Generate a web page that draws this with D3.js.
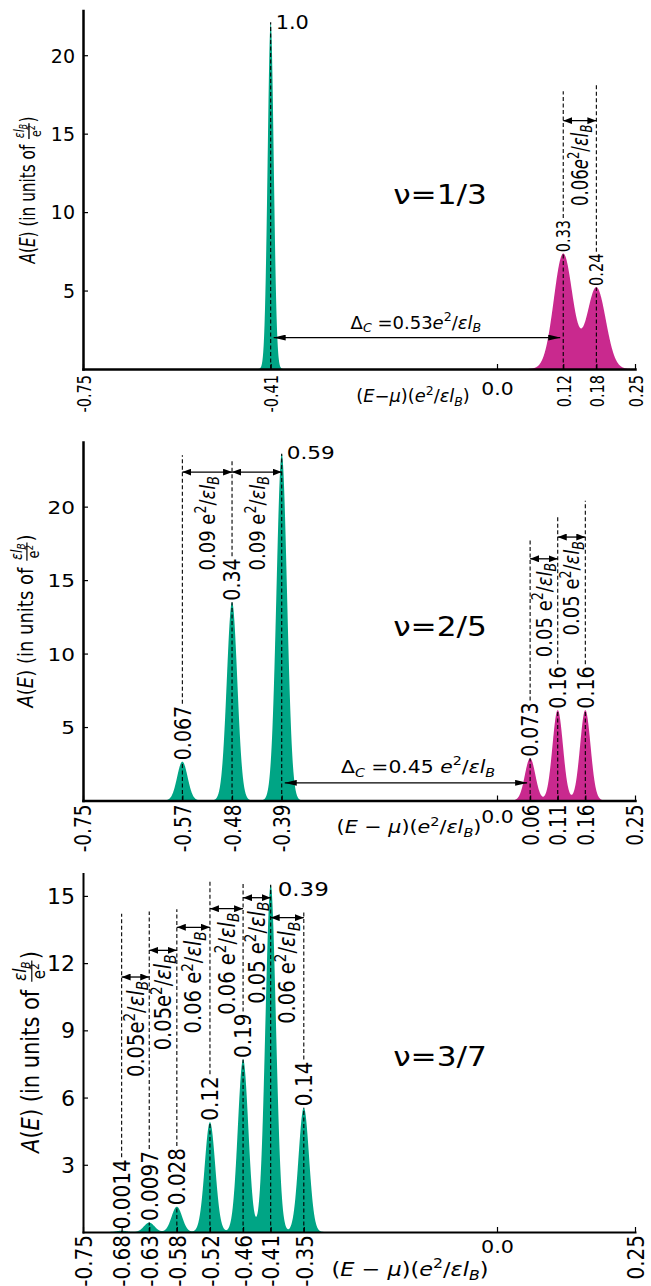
<!DOCTYPE html>
<html>
<head>
<meta charset="utf-8">
<title>Spectral function A(E) at ν = 1/3, 2/5, 3/7</title>
<script src="https://cdn.jsdelivr.net/npm/d3@7/dist/d3.min.js"></script>
<style>
  html, body { margin: 0; padding: 0; background: #fff; }
  svg { display: block; }
  text { font-family: "DejaVu Sans", "Noto Sans", sans-serif; fill: #000; white-space: pre; }
</style>
</head>
<body>
<svg id="chart" width="651" height="1286"></svg>
<script>
// ---------- ν = 1/3 ----------
const nu13Centers  = [-0.41, 0.12, 0.18];
const nu13Heights  = [22.1, 7.35, 5.2];
const nu13Widths   = [0.0055, 0.017, 0.017];
const nu13Sides    = ["hole", "particle", "particle"];
const nu13Weights  = ["1.0", "0.33", "0.24"];
const nu13Spacings = ["0.06"];
const nu13Gap      = "0.53";
const nu13XTicks      = [-0.75, -0.41, 0.0, 0.12, 0.18, 0.25];
const nu13XTickLabels = ["-0.75", "-0.41", "0.0", "0.12", "0.18", "0.25"];
const nu13YTicks      = [5, 10, 15, 20];

// ---------- ν = 2/5 ----------
const nu25Centers  = [-0.57, -0.48, -0.39, 0.06, 0.11, 0.16];
const nu25Heights  = [2.64, 13.5, 23.6, 2.87, 6.15, 6.15];
const nu25Widths   = [0.0095, 0.0095, 0.0095, 0.0095, 0.0095, 0.0095];
const nu25Sides    = ["hole", "hole", "hole", "particle", "particle", "particle"];
const nu25Weights  = ["0.067", "0.34", "0.59", "0.073", "0.16", "0.16"];
const nu25Spacings = ["0.09", "0.09", "0.05", "0.05"];
const nu25Gap      = "0.45";
const nu25XTicks      = [-0.75, -0.57, -0.48, -0.39, 0.0, 0.06, 0.11, 0.16, 0.25];
const nu25XTickLabels = ["-0.75", "-0.57", "-0.48", "-0.39", "0.0", "0.06", "0.11", "0.16", "0.25"];
const nu25YTicks      = [5, 10, 15, 20];

// ---------- ν = 3/7 ----------
const nu37Centers  = [-0.68, -0.63, -0.58, -0.52, -0.46, -0.41, -0.35];
const nu37Heights  = [0.056, 0.42, 1.13, 4.9, 7.7, 15.5, 5.55];
const nu37Widths   = [0.0095, 0.0095, 0.0095, 0.0095, 0.0095, 0.0095, 0.0095];
const nu37Sides    = ["hole", "hole", "hole", "hole", "hole", "hole", "hole"];
const nu37Weights  = ["0.0014", "0.0097", "0.028", "0.12", "0.19", "0.39", "0.14"];
const nu37Spacings = ["0.05", "0.05", "0.06", "0.06", "0.05", "0.06"];
const nu37XTicks      = [-0.75, -0.68, -0.63, -0.58, -0.52, -0.46, -0.41, -0.35, 0.0, 0.25];
const nu37XTickLabels = ["-0.75", "-0.68", "-0.63", "-0.58", "-0.52", "-0.46", "-0.41", "-0.35", "0.0", "0.25"];
const nu37YTicks      = [3, 6, 9, 12, 15];

const COLORS = { hole: "#00a585", particle: "#c9298e" };
const X0 = 83, X1 = 635, PLOT_H = 358.5;

// layout of each panel (pixel placement, fonts, annotation heights)
const panels = [
  {
    title: "ν=1/3", centers: nu13Centers, heights: nu13Heights, widths: nu13Widths, sides: nu13Sides,
    weights: nu13Weights, spacings: nu13Spacings, gap: nu13Gap,
    xTicks: nu13XTicks, xTickLabels: nu13XTickLabels, yTicks: nu13YTicks,
    base: 369, yMax: 22.85, spine: 2.5,
    hsx: 1.1, rsx: 1.35, ytSize: 19, ytSx: 1.0,
    rotTickSize: 14.5, rotGap: 6, zeroSize: 18.5, zeroY: 19,
    peakSize: 14.5, top: { dx: 5, dy: 0, size: 19 },
    guideTop: [null, 17.7, 18.1],
    spacingPairs: [[1, 2]], spacingY: [15.83], spacingSpace: [false], spacingSize: 16.5, spacingItalicE: true,
    gapPair: [0, 1], gapY: 2.0, gapLabelX: -0.147, gapLabelDy: 9, gapSize: 18, gapSx: 1.0, gapSpace: false,
    titleY: 195, titleSize: 26,
    xLabelX: 413, xLabelY: 397, xLabelSize: 17, xLabelSx: 1.05, xLabelSpaced: false,
    yLabelX: 30, yLabelY: 190, yLabelSize: 15.3
  },
  {
    title: "ν=2/5", centers: nu25Centers, heights: nu25Heights, widths: nu25Widths, sides: nu25Sides,
    weights: nu25Weights, spacings: nu25Spacings, gap: nu25Gap,
    xTicks: nu25XTicks, xTickLabels: nu25XTickLabels, yTicks: nu25YTicks,
    base: 800.5, yMax: 24.4, spine: 2.5,
    hsx: 1.2, rsx: 1.2, ytSize: 18, ytSx: 1.2,
    rotTickSize: 18.5, rotGap: 4, zeroSize: 17, zeroY: 16,
    peakSize: 19, top: { dx: 5, dy: -1, size: 18 },
    guideTop: [23.5, 23.15, null, 17.85, 19.35, 20.4],
    spacingPairs: [[0, 1], [1, 2], [3, 4], [4, 5]], spacingY: [22.35, 22.35, 16.45, 17.93],
    spacingSpace: [true, true, true, true], spacingSize: 18, spacingItalicE: false,
    gapPair: [2, 3], gapY: 1.2, gapLabelX: -0.143, gapLabelDy: 10, gapSize: 18.5, gapSx: 1.1, gapSpace: true,
    titleY: 627, titleSize: 26,
    xLabelX: 409, xLabelY: 828, xLabelSize: 18, xLabelSx: 1.15, xLabelSpaced: true,
    yLabelX: 28, yLabelY: 621, yLabelSize: 18
  },
  {
    title: "ν=3/7", centers: nu37Centers, heights: nu37Heights, widths: nu37Widths, sides: nu37Sides,
    weights: nu37Weights, spacings: nu37Spacings, gap: null,
    xTicks: nu37XTicks, xTickLabels: nu37XTickLabels, yTicks: nu37YTicks,
    base: 1232, yMax: 16, spine: 2,
    hsx: 1.15, rsx: 1.15, ytSize: 21, ytSx: 1.05,
    rotTickSize: 20, rotGap: 3, zeroSize: 18, zeroY: 15,
    peakSize: 20, top: { dx: 7, dy: 4, size: 20 },
    guideTop: [14.2, 14.3, 14.4, 15.7, 15.55, null, 14.35],
    spacingPairs: [[0, 1], [1, 2], [2, 3], [3, 4], [4, 5], [5, 6]],
    spacingY: [11.38, 12.57, 13.6, 14.43, 14.92, 14.03],
    spacingSpace: [false, false, true, true, true, true], spacingSize: 19.5, spacingItalicE: false,
    titleY: 1057, titleSize: 26,
    xLabelX: 410, xLabelY: 1270, xLabelSize: 20, xLabelSx: 1.12, xLabelSpaced: true,
    yLabelX: 33, yLabelY: 1052, yLabelSize: 21
  }
];

const svg = d3.select("#chart");
const defs = svg.append("defs");

function arrowHead(id, w, h) {
  defs.append("marker").attr("id", id)
    .attr("viewBox", "0 0 10 10").attr("preserveAspectRatio", "none")
    .attr("refX", 10).attr("refY", 5)
    .attr("markerWidth", w).attr("markerHeight", h)
    .attr("markerUnits", "userSpaceOnUse")
    .attr("orient", "auto-start-reverse")
    .append("path").attr("d", "M0,0L10,5L0,10Z").attr("fill", "#000");
}
arrowHead("head", 9, 7);
arrowHead("headLong", 12, 6);

// text made of styled runs: ["text", "" | "i" | "sup" | "sub" | "isub"]
function rich(t, parts, size, baseDy) {
  let cur = 0, first = true;
  parts.forEach(([s, st]) => {
    let target = 0, fs = size;
    if (st.indexOf("sup") >= 0) { target = -0.4 * size; fs = 0.7 * size; }
    if (st.indexOf("sub") >= 0) { target = 0.2 * size; fs = 0.7 * size; }
    const sp = t.append("tspan").attr("font-size", fs).text(s);
    if (st === "i" || st === "isub" || st === "isup") sp.attr("font-style", "italic");
    const dy = (first ? baseDy : 0) + target - cur;
    if (dy !== 0) sp.attr("dy", dy);
    cur = target; first = false;
  });
  return t;
}

function place(parent, x, y, parts, size, opt) {
  const t = parent.append("text")
    .attr("transform", `translate(${x},${y}) scale(${opt.sx || 1},1)${opt.rot ? " rotate(-90)" : ""}`)
    .attr("text-anchor", opt.anchor || "start")
    .attr("font-size", size);
  rich(t, typeof parts === "string" ? [[parts, ""]] : parts, size, (opt.dy === undefined ? 0.36 : opt.dy) * size);
  return t;
}

const unitParts = italicE => [["e", italicE ? "i" : ""], ["2", "sup"], ["/", ""], ["ε", "i"], ["l", "i"], ["B", "isub"]];

function dashed(parent, x, y1, y2) {
  parent.append("line").attr("x1", x).attr("x2", x).attr("y1", y1).attr("y2", y2)
    .attr("stroke", "#000").attr("stroke-width", 1.1).attr("stroke-dasharray", "4,2.5");
}

// rotated axis title with the stacked unit εl_B / e²
function yLabel(parent, L) {
  const s = L.yLabelSize;
  const g = parent.append("g").attr("transform", `translate(${L.yLabelX},${L.yLabelY}) scale(${L.rsx},1) rotate(-90)`);
  const inner = g.append("g");
  const t1 = inner.append("text").attr("font-size", s);
  rich(t1, [["A", "i"], ["(", ""], ["E", "i"], [") (in units of ", ""]], s, 0);
  const L1 = t1.node().getComputedTextLength();
  const fs = 0.72 * s;
  const bar = -0.3 * s;
  const num = inner.append("text").attr("font-size", fs).attr("text-anchor", "middle");
  rich(num, [["ε", "i"], ["l", "i"], ["B", "isub"]], fs, 0);
  const den = inner.append("text").attr("font-size", fs).attr("text-anchor", "middle");
  rich(den, [["e", ""], ["2", "sup"]], fs, 0);
  const fw = Math.max(num.node().getComputedTextLength(), den.node().getComputedTextLength()) + 0.2 * s;
  const fx = L1 + fw / 2;
  num.attr("x", fx).attr("y", bar - 0.22 * s);
  den.attr("x", fx).attr("y", bar + 0.12 * s + 0.62 * fs);
  inner.append("line").attr("x1", L1 + 0.06 * s).attr("x2", L1 + fw - 0.06 * s)
    .attr("y1", bar).attr("y2", bar).attr("stroke", "#000").attr("stroke-width", 1);
  const t2 = inner.append("text").attr("font-size", s).attr("x", L1 + fw).text(")");
  const total = L1 + fw + t2.node().getComputedTextLength();
  inner.attr("transform", `translate(${-total / 2},${0.25 * s})`);
}

function drawPanel(L) {
  const g = svg.append("g");
  const x = d3.scaleLinear().domain([-0.75, 0.25]).range([X0, X1]);
  const y = d3.scaleLinear().domain([0, L.yMax]).range([L.base, L.base - PLOT_H]);

  // filled peaks: hole side and particle side
  const grid = d3.range(-0.75, 0.25001, 0.0004);
  ["hole", "particle"].forEach(side => {
    const idx = L.sides.map((s, i) => (s === side ? i : -1)).filter(i => i >= 0);
    if (!idx.length) return;
    const A = e => d3.sum(idx, i => L.heights[i] * Math.exp(-((e - L.centers[i]) ** 2) / (2 * L.widths[i] ** 2)));
    g.append("path").datum(grid)
      .attr("d", d3.area().x(d => x(d)).y0(y(0)).y1(d => y(A(d))))
      .attr("fill", COLORS[side]);
  });

  // guide lines and spectral weights
  L.centers.forEach((c, i) => {
    const xp = x(c), yp = y(L.heights[i]);
    dashed(g, xp, y(0), yp);
    if (L.guideTop[i] === null) {
      place(g, xp + L.top.dx, yp + L.top.dy, L.weights[i], L.top.size, { sx: L.hsx });
    } else {
      const t = place(g, xp, yp - 1.5, L.weights[i], L.peakSize, { sx: L.rsx, rot: true, anchor: "start" });
      const len = t.node().getComputedTextLength();
      dashed(g, xp, yp - 1.5 - len - 2, y(L.guideTop[i]));
    }
  });

  // level spacings
  L.spacings.forEach((lab, j) => {
    const [a, b] = L.spacingPairs[j];
    const xa = x(L.centers[a]), xb = x(L.centers[b]), yy = y(L.spacingY[j]);
    g.append("line").attr("x1", xa).attr("x2", xb).attr("y1", yy).attr("y2", yy)
      .attr("stroke", "#000").attr("stroke-width", 1.3)
      .attr("marker-start", "url(#head)").attr("marker-end", "url(#head)");
    place(g, (xa + xb) / 2, yy + 4,
      [[lab + (L.spacingSpace[j] ? " " : ""), ""], ...unitParts(L.spacingItalicE)],
      L.spacingSize, { sx: L.rsx, rot: true, anchor: "end" });
  });

  // charge gap
  if (L.gap) {
    const [a, b] = L.gapPair;
    const yy = y(L.gapY);
    g.append("line").attr("x1", x(L.centers[a]) + 3).attr("x2", x(L.centers[b]) - 3)
      .attr("y1", yy).attr("y2", yy).attr("stroke", "#000").attr("stroke-width", 1.3)
      .attr("marker-start", "url(#headLong)").attr("marker-end", "url(#headLong)");
    place(g, x(L.gapLabelX), yy - L.gapLabelDy,
      [["Δ", ""], ["C", "isub"], [" =", ""], [L.gap + (L.gapSpace ? " " : ""), ""], ...unitParts(true)],
      L.gapSize, { sx: L.gapSx, anchor: "middle", dy: 0 });
  }

  // axes
  const ya = g.append("g").attr("transform", `translate(${X0},0)`)
    .call(d3.axisLeft(y).tickValues(L.yTicks).tickSizeInner(-5).tickSizeOuter(0).tickFormat(d3.format("d")));
  ya.attr("font-family", null).attr("font-size", null);
  ya.select(".domain").attr("stroke-width", L.spine).attr("stroke-linecap", "square");
  ya.selectAll(".tick line").attr("stroke-width", 1.2);
  ya.selectAll(".tick text").attr("x", null).attr("dy", "0.36em").attr("font-size", L.ytSize)
    .attr("transform", `translate(-8,0) scale(${L.ytSx},1)`);

  const xa = g.append("g").attr("transform", `translate(0,${L.base})`)
    .call(d3.axisBottom(x).tickValues(L.xTicks).tickSizeInner(-5).tickSizeOuter(0)
      .tickFormat((d, i) => L.xTickLabels[i]));
  xa.attr("font-family", null).attr("font-size", null);
  xa.select(".domain").attr("stroke-width", L.spine).attr("stroke-linecap", "square");
  xa.selectAll(".tick line").attr("stroke-width", 1.2);
  xa.selectAll(".tick text").each(function (d) {
    const t = d3.select(this).attr("y", null).attr("x", null);
    if (d === 0) {
      t.attr("font-size", L.zeroSize).attr("dy", "0.36em").attr("text-anchor", "middle")
        .attr("transform", `translate(0,${L.zeroY}) scale(${L.hsx},1)`);
    } else {
      t.attr("font-size", L.rotTickSize).attr("dy", "0.36em").attr("text-anchor", "end")
        .attr("transform", `translate(0,${L.rotGap}) scale(${L.rsx},1) rotate(-90)`);
    }
  });

  // axis titles and filling factor
  const xl = [["(", ""], ["E", "i"], [L.xLabelSpaced ? " − " : "−", ""], ["μ", "i"], [")(", ""], ...unitParts(true), [")", ""]];
  place(g, L.xLabelX, L.xLabelY, xl, L.xLabelSize, { sx: L.xLabelSx, anchor: "middle", dy: 0.3 });
  yLabel(g, L);
  place(g, 440, L.titleY, L.title, L.titleSize, { sx: 1.2, anchor: "middle" });
}

panels.forEach(drawPanel);
</script>
</body>
</html>
